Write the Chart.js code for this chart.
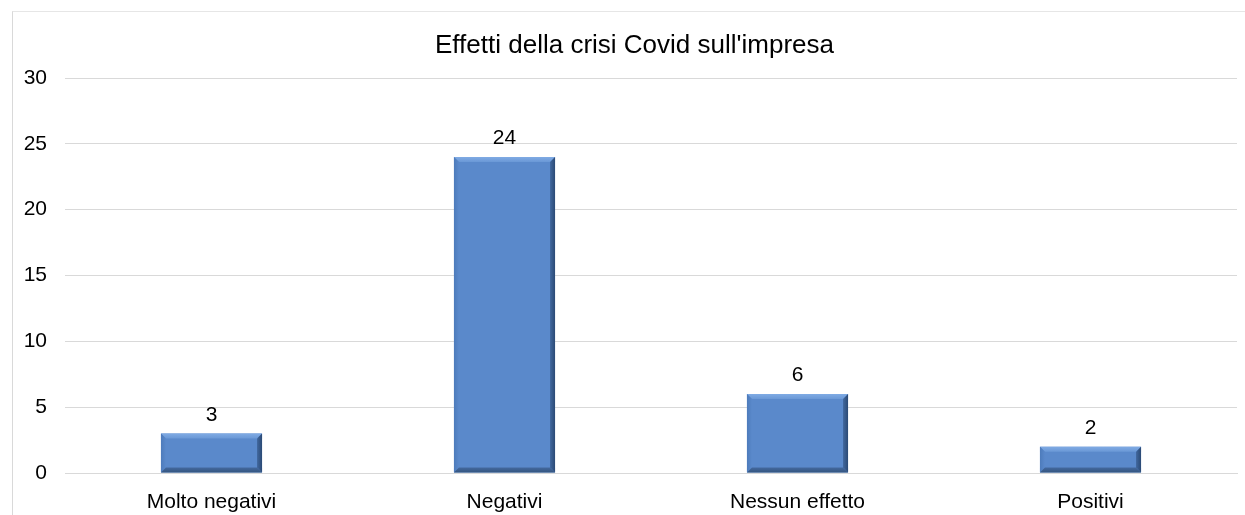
<!DOCTYPE html>
<html>
<head>
<meta charset="utf-8">
<script src="https://cdn.jsdelivr.net/npm/chart.js@4/dist/chart.umd.min.js"></script>
<style>
  html, body { margin: 0; padding: 0; background: #fff; overflow: hidden; }
  body { width: 1245px; height: 515px; position: relative; font-family: "Liberation Sans", Arial, sans-serif; }
  #frame { position: absolute; left: 12px; top: 11px; width: 1260px; height: 520px;
           border-left: 1px solid #d9d9d9; border-top: 1px solid #e6e6e6; box-sizing: border-box; }
  #wrap { position: absolute; left: 12px; top: 10px; width: 1245px; height: 505px; }
</style>
</head>
<body>
<div id="frame"></div>
<div id="wrap"><canvas id="c"></canvas></div>
<script>
const categories = ["Molto negativi", "Negativi", "Nessun effetto", "Positivi"];
const counts = [3, 24, 6, 2];
const yTicks = [0, 5, 10, 15, 20, 25, 30];
const chartTitle = "Effetti della crisi Covid sull'impresa";

const FONT = '"Liberation Sans", Arial, sans-serif';

// Bevelled bar faces: light top/left edges, dark right/bottom edges
const bevelPlugin = {
  id: 'bevel',
  afterDatasetsDraw(chart) {
    const ctx = chart.ctx;
    const meta = chart.getDatasetMeta(0);
    meta.data.forEach(bar => {
      const p = bar.getProps(['x', 'y', 'base', 'width'], true);
      const l = p.x - p.width / 2, r = p.x + p.width / 2;
      const t = p.y, b = p.base;
      const d = Math.min(5, (b - t) / 2);
      ctx.save();
      let g = ctx.createLinearGradient(0, t, 0, t + d);
      g.addColorStop(0, '#80abe4'); g.addColorStop(1, '#6a98d6');
      ctx.fillStyle = g;
      ctx.beginPath(); ctx.moveTo(l, t); ctx.lineTo(r, t); ctx.lineTo(r - d, t + d); ctx.lineTo(l + d, t + d); ctx.closePath(); ctx.fill();
      g = ctx.createLinearGradient(l, 0, l + d, 0);
      g.addColorStop(0, '#4d7bbb'); g.addColorStop(1, '#5a89cb');
      ctx.fillStyle = g;
      ctx.beginPath(); ctx.moveTo(l, t); ctx.lineTo(l + d, t + d); ctx.lineTo(l + d, b - d); ctx.lineTo(l, b); ctx.closePath(); ctx.fill();
      g = ctx.createLinearGradient(r - d, 0, r, 0);
      g.addColorStop(0, '#41689f'); g.addColorStop(1, '#2b4a75');
      ctx.fillStyle = g;
      ctx.beginPath(); ctx.moveTo(r, t); ctx.lineTo(r, b); ctx.lineTo(r - d, b - d); ctx.lineTo(r - d, t + d); ctx.closePath(); ctx.fill();
      g = ctx.createLinearGradient(0, b - d, 0, b);
      g.addColorStop(0, '#44699f'); g.addColorStop(1, '#34557f');
      ctx.fillStyle = g;
      ctx.beginPath(); ctx.moveTo(l, b); ctx.lineTo(r, b); ctx.lineTo(r - d, b - d); ctx.lineTo(l + d, b - d); ctx.closePath(); ctx.fill();
      ctx.restore();
    });
  }
};

// Value labels above each bar
const valueLabels = {
  id: 'valueLabels',
  afterDatasetsDraw(chart) {
    const ctx = chart.ctx;
    const meta = chart.getDatasetMeta(0);
    ctx.save();
    ctx.font = '21px ' + FONT;
    ctx.fillStyle = '#000';
    ctx.textAlign = 'center';
    ctx.textBaseline = 'bottom';
    meta.data.forEach((bar, i) => {
      ctx.fillText(String(counts[i]), bar.x, bar.y - 8);
    });
    ctx.restore();
  }
};

// Chart heading, centred on the full canvas width
const headingPlugin = {
  id: 'heading',
  afterDraw(chart) {
    const ctx = chart.ctx;
    ctx.save();
    ctx.font = '26px ' + FONT;
    ctx.fillStyle = '#000';
    ctx.textAlign = 'center';
    ctx.textBaseline = 'middle';
    ctx.fillText(chartTitle, chart.width / 2, 36);
    ctx.restore();
  }
};

new Chart(document.getElementById('c'), {
  type: 'bar',
  data: {
    labels: categories,
    datasets: [{
      data: counts,
      backgroundColor: '#5a89cb',
      borderWidth: 0,
      barPercentage: 0.345,
      categoryPercentage: 1.0
    }]
  },
  options: {
    responsive: true,
    maintainAspectRatio: false,
    animation: false,
    layout: { padding: { left: 0, right: 20, top: 68, bottom: 0 } },
    plugins: {
      legend: { display: false },
      tooltip: { enabled: false },
      title: { display: false }
    },
    scales: {
      x: {
        grid: { display: false, drawTicks: false },
        border: { display: true, color: '#d9d9d9', width: 1 },
        ticks: { color: '#000', font: { family: FONT, size: 21 }, padding: 17, maxRotation: 0 },
        afterFit(s) { s.height = 42; }
      },
      y: {
        min: 0, max: 30,
        afterBuildTicks(s) { s.ticks = yTicks.map(v => ({ value: v })); },
        grid: { color: '#d9d9d9', drawTicks: false },
        border: { display: false },
        ticks: { color: '#000', font: { family: FONT, size: 21 }, padding: 18 },
        afterFit(s) { s.width = 53; }
      }
    }
  },
  plugins: [bevelPlugin, valueLabels, headingPlugin]
});
</script>
</body>
</html>
